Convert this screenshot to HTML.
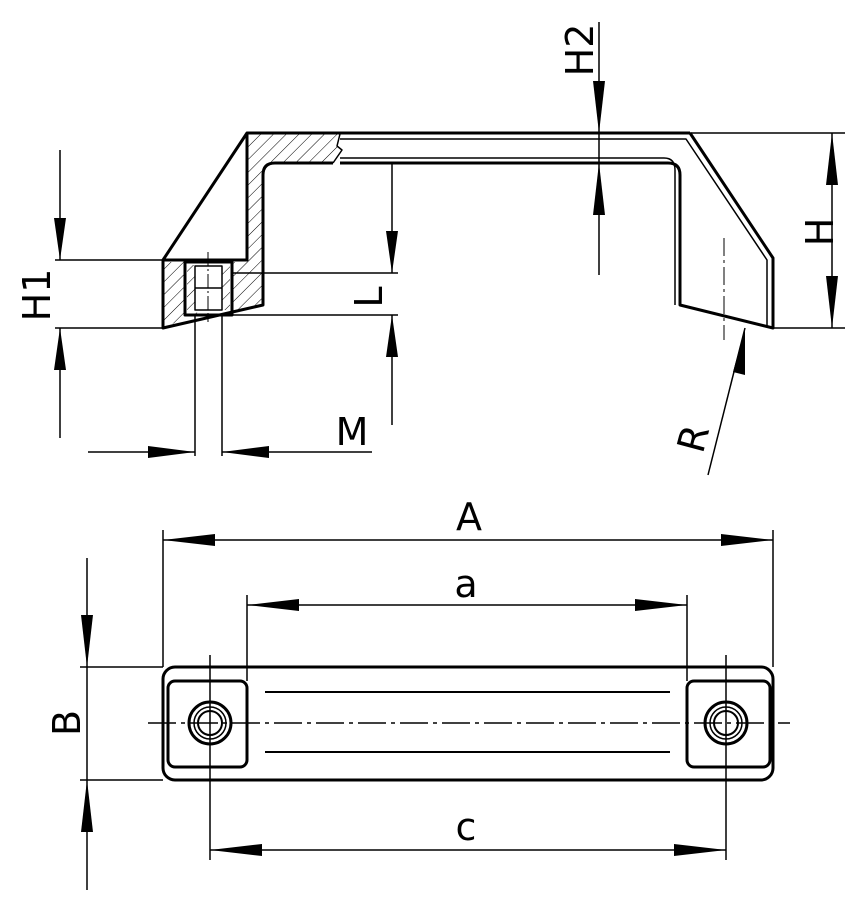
<!DOCTYPE html>
<html><head><meta charset="utf-8"><style>html,body{margin:0;padding:0;background:#fff}svg{display:block}</style></head>
<body>
<svg width="863" height="903" viewBox="0 0 863 903" xmlns="http://www.w3.org/2000/svg" font-family="DejaVu Sans, Liberation Sans, sans-serif">
<defs>
<pattern id="h" width="9" height="9" patternUnits="userSpaceOnUse" patternTransform="rotate(45)">
<line x1="0" y1="0" x2="0" y2="9" stroke="#000" stroke-width="1"/>
</pattern>
</defs>
<g fill="none" stroke="#000" stroke-linejoin="round">
<path d="M247,134 L340,134 L337,150 L333,163 L275,163 Q263,163 263,175 L263,305 L232,312 L232,262 L247,262 Z" fill="url(#h)" stroke="none"/>
<path d="M163,262 L185,262 L185,315 L200,312 L163,328 Z" fill="url(#h)" stroke="none"/>
<path d="M187,265 L195,265 L195,310 L187,310 Z M222,265 L230,265 L230,310 L222,310 Z" fill="url(#h)" stroke="none"/>
<path d="M690,133 L247,133 L163,260 L163,328 L263,305 L263,175 Q263,163 275,163 L333,163" stroke-width="3"/>
<path d="M690,133 L773,258 L773,328 L680,305 L680,175 Q680,163 668,163 L340,163" stroke-width="3"/>
<path d="M340,139 L686,139 L767,260 L767,326" stroke-width="1.5"/>
<path d="M340,158 L664,158 Q675,158 675,170 L675,305" stroke-width="1.5"/>
<path d="M247,133 L247,260 L163,260" stroke-width="3"/>
<path d="M340,134 L337,146 L342,150 L333,163" stroke-width="1.5"/>
<rect x="185" y="262" width="47" height="53" stroke-width="3"/>
<rect x="195" y="266" width="27" height="44" stroke-width="1.5"/>
<line x1="195" y1="288" x2="222" y2="288" stroke-width="1.5"/>
<line x1="208" y1="252" x2="208" y2="322" stroke-width="1" stroke-dasharray="14,3,2,3"/>
<line x1="724" y1="238" x2="724" y2="340" stroke-width="1" stroke-dasharray="18,4,3,4"/>
<g stroke-width="1.5">
<line x1="55" y1="260" x2="163" y2="260"/><line x1="55" y1="328" x2="163" y2="328"/>
<line x1="60" y1="150" x2="60" y2="260"/><line x1="60" y1="328" x2="60" y2="438"/>
<line x1="232" y1="273" x2="398" y2="273"/><line x1="232" y1="315" x2="398" y2="315"/>
<line x1="392" y1="163" x2="392" y2="273"/><line x1="392" y1="315" x2="392" y2="425"/>
<line x1="195" y1="315" x2="195" y2="456"/><line x1="222" y1="315" x2="222" y2="456"/>
<line x1="88" y1="452" x2="195" y2="452"/><line x1="222" y1="452" x2="372" y2="452"/>
<line x1="599" y1="22" x2="599" y2="275"/>
<line x1="690" y1="133" x2="845" y2="133"/><line x1="773" y1="328" x2="845" y2="328"/>
<line x1="832" y1="133" x2="832" y2="328"/>
<line x1="708" y1="475" x2="745" y2="328"/>
<line x1="163" y1="530" x2="163" y2="667"/><line x1="773" y1="530" x2="773" y2="667"/>
<line x1="163" y1="540" x2="773" y2="540"/>
<line x1="247" y1="595" x2="247" y2="681"/><line x1="687" y1="595" x2="687" y2="681"/>
<line x1="247" y1="605" x2="687" y2="605"/>
<line x1="210" y1="655" x2="210" y2="860"/><line x1="726" y1="655" x2="726" y2="860"/>
<line x1="210" y1="850" x2="726" y2="850"/>
<line x1="80" y1="667" x2="163" y2="667"/><line x1="80" y1="780" x2="163" y2="780"/>
<line x1="87" y1="558" x2="87" y2="890"/>
</g>
<rect x="163" y="667" width="610" height="113" rx="12" stroke-width="3"/>
<rect x="168" y="681" width="79" height="86" rx="7" stroke-width="3"/>
<rect x="687" y="681" width="83" height="86" rx="7" stroke-width="3"/>
<line x1="265" y1="692" x2="670" y2="692" stroke-width="2"/>
<line x1="265" y1="752" x2="670" y2="752" stroke-width="2"/>
<line x1="148" y1="723" x2="790" y2="723" stroke-width="1.5" stroke-dasharray="28,5,4,5"/>
<circle cx="210" cy="723" r="21" stroke-width="3"/><circle cx="210" cy="723" r="16" stroke-width="1.5"/><circle cx="210" cy="723" r="12" stroke-width="2"/>
<circle cx="726" cy="723" r="21" stroke-width="3"/><circle cx="726" cy="723" r="16" stroke-width="1.5"/><circle cx="726" cy="723" r="12" stroke-width="2"/>
</g>
<g fill="#000">
<polygon points="60,260 54,218 66,218"/><polygon points="60,328 54,370 66,370"/>
<polygon points="392,273 386,231 398,231"/><polygon points="392,315 386,357 398,357"/>
<polygon points="195,452 148,446 148,458"/><polygon points="222,452 269,446 269,458"/>
<polygon points="599,133 593,81 605,81"/><polygon points="599,163 593,215 605,215"/>
<polygon points="832,133 826,185 838,185"/><polygon points="832,328 826,276 838,276"/>
<polygon points="745,328 733,372 745,375"/>
<polygon points="163,540 215,534 215,546"/><polygon points="773,540 721,534 721,546"/>
<polygon points="247,605 299,599 299,611"/><polygon points="687,605 635,599 635,611"/>
<polygon points="210,850 262,844 262,856"/><polygon points="726,850 674,844 674,856"/>
<polygon points="87,667 81,615 93,615"/><polygon points="87,780 81,832 93,832"/>
</g>
<g font-size="38" fill="#000">
<text x="469" y="530" text-anchor="middle">A</text>
<text x="466" y="597" text-anchor="middle">a</text>
<text x="466" y="840" text-anchor="middle">c</text>
<text x="352" y="445" text-anchor="middle">M</text>
<text transform="translate(80,723) rotate(-90)" text-anchor="middle">B</text>
<text transform="translate(50,295) rotate(-90)" text-anchor="middle">H1</text>
<text transform="translate(382,297) rotate(-90)" text-anchor="middle">L</text>
<text transform="translate(593,50) rotate(-90)" text-anchor="middle">H2</text>
<text transform="translate(833,232) rotate(-90)" text-anchor="middle">H</text>
<text transform="translate(706,442) rotate(-75)" text-anchor="middle">R</text>
</g>
</svg>
</body></html>
